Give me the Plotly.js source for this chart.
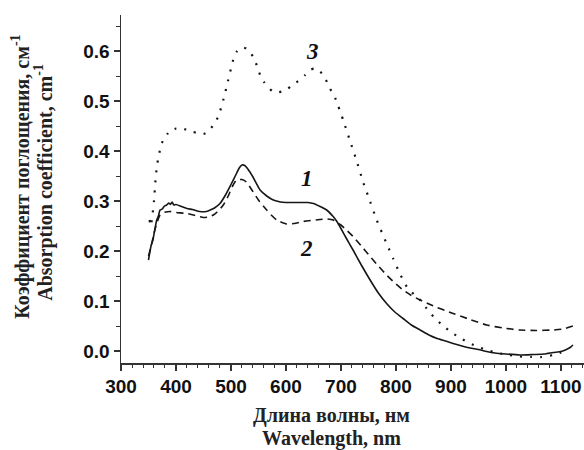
<!DOCTYPE html>
<html>
<head>
<meta charset="utf-8">
<script src="https://cdn.plot.ly/plotly-3.0.1.min.js"></script>
<style>html,body{margin:0;padding:0;background:#fff;}#chart{width:584px;height:450px;}</style>
</head>
<body>
<div id="chart"></div>
<script>
// Curve 1 (solid)
const x1 = [350,352,355,358,361,365,368,371,375,379,383,387,390,393,396,400,410,420,430,443,455,462,470,480,490,500,510,515,520,525,530,540,553,565,577,590,600,613,625,640,650,662,674,685,692,700,710,722,737,753,768,783,798,813,828,844,860,875,890,904,920,935,950,965,980,1000,1025,1050,1070,1086,1100,1110,1118,1122];
const y1 = [0.182,0.195,0.212,0.222,0.240,0.262,0.270,0.282,0.284,0.290,0.292,0.296,0.293,0.298,0.292,0.293,0.289,0.285,0.283,0.279,0.279,0.282,0.286,0.295,0.312,0.333,0.355,0.366,0.372,0.371,0.365,0.348,0.322,0.310,0.302,0.298,0.297,0.297,0.297,0.297,0.295,0.289,0.282,0.270,0.260,0.245,0.225,0.202,0.172,0.142,0.116,0.095,0.078,0.065,0.052,0.042,0.032,0.025,0.020,0.015,0.010,0.006,0.003,-0.001,-0.004,-0.006,-0.008,-0.007,-0.006,-0.003,-0.001,0.003,0.008,0.012];
// Curve 2 (dashed)
const x2 = [350,355,360,365,371,378,389,400,420,435,450,460,468,475,486,495,503,510,520,528,538,550,565,575,583,601,615,631,645,662,675,686,692,700,710,722,737,753,768,783,798,813,828,844,860,875,890,904,935,965,995,1025,1055,1086,1105,1122];
const y2 = [0.190,0.210,0.235,0.255,0.272,0.277,0.279,0.277,0.275,0.271,0.267,0.268,0.272,0.278,0.292,0.310,0.330,0.342,0.343,0.338,0.322,0.302,0.282,0.270,0.262,0.254,0.255,0.259,0.261,0.263,0.264,0.262,0.257,0.252,0.242,0.229,0.210,0.189,0.170,0.152,0.136,0.122,0.111,0.102,0.094,0.087,0.081,0.075,0.063,0.052,0.046,0.042,0.041,0.042,0.044,0.050];
// Curve 3 (dotted)
const x3 = [352,354,357,360,363,366,369,372,376,380,385,390,395,400,407,415,423,431,440,450,458,468,477,486,495,504,510,516,522,528,534,540,547,553,560,568,575,583,592,601,612,625,635,644,652,662,670,680,688,695,704,716,728,740,753,765,783,795,807,820,833,844,856,868,886,904,920,935,950,965,985,1005,1025,1045,1065,1086,1100,1110];
const y3 = [0.262,0.250,0.270,0.300,0.345,0.375,0.390,0.410,0.420,0.428,0.435,0.442,0.443,0.445,0.446,0.444,0.440,0.438,0.436,0.434,0.438,0.452,0.469,0.502,0.542,0.582,0.598,0.605,0.607,0.605,0.598,0.589,0.571,0.552,0.538,0.527,0.520,0.517,0.519,0.523,0.532,0.542,0.552,0.562,0.565,0.559,0.548,0.525,0.510,0.490,0.462,0.422,0.382,0.339,0.299,0.262,0.215,0.185,0.155,0.128,0.113,0.102,0.085,0.069,0.050,0.035,0.024,0.015,0.008,0.002,-0.004,-0.008,-0.011,-0.012,-0.012,-0.008,-0.003,0.002];

const curveLabels = ['1','2','3'];
const labelX = [638, 638, 648];
const labelY = [0.345, 0.205, 0.599];
const xTickVals = [300,400,500,600,700,800,900,1000,1100];
const xTickText = ['300','400','500','600','700','800','900','1000','1100'];
const yTickVals = [0,0.1,0.2,0.3,0.4,0.5,0.6];
const yTickText = ['0.0','0.1','0.2','0.3','0.4','0.5','0.6'];

const lineColor = '#161616';
const traces = [
  {x:x1, y:y1, mode:'lines', line:{color:lineColor, width:1.6, shape:'spline', smoothing:0.5}},
  {x:x2, y:y2, mode:'lines', line:{color:lineColor, width:1.6, dash:'7px,5px', shape:'spline', smoothing:0.5}},
  {x:x3, y:y3, mode:'lines', line:{color:lineColor, width:2.2, dash:'2px,8px', shape:'spline', smoothing:0.5}}
];

const serif = {family:'Liberation Serif', size:20, color:'#222'};
const annotations = curveLabels.map((t,i)=>({
  x:labelX[i], y:labelY[i], xref:'x', yref:'y', text:'<b><i>'+t+'</i></b>', showarrow:false,
  font:{family:'Liberation Serif', size:23, color:'#111'}
}));
annotations.push(
  {xref:'paper', yref:'paper', x:0.4536, y:-0.152, text:'<b>Длина волны, нм</b>', showarrow:false, xanchor:'center', yanchor:'middle', font:serif},
  {xref:'paper', yref:'paper', x:0.4536, y:-0.218, text:'<b>Wavelength, nm</b>', showarrow:false, xanchor:'center', yanchor:'middle', font:serif},
  {xref:'paper', yref:'paper', x:-0.2160, y:0.535, text:'<b>Коэффициент поглощения, см<sup>-1</sup></b>', showarrow:false, textangle:-90, xanchor:'center', yanchor:'middle', font:serif},
  {xref:'paper', yref:'paper', x:-0.1663, y:0.518, text:'<b>Absorption coefficient, cm<sup>-1</sup></b>', showarrow:false, textangle:-90, xanchor:'center', yanchor:'middle', font:serif}
);

const tickFont = {family:'Liberation Sans', size:19, color:'#111'};
const layout = {
  width:584, height:450,
  margin:{l:121, r:0, t:15, b:87, pad:0},
  paper_bgcolor:'#fff', plot_bgcolor:'#fff',
  showlegend:false,
  xaxis:{range:[300,1142], showgrid:false, zeroline:false, showline:true, linecolor:'#333', linewidth:1.5,
    tickmode:'array', tickvals:xTickVals, ticktext:xTickText.map(s=>'<b>'+s+'</b>'), ticks:'outside', ticklen:6, tickwidth:1.3, tickcolor:'#333',
    tickfont:tickFont, tickangle:0,
    minor:{dtick:20, tick0:300, ticks:'outside', ticklen:3.5, tickwidth:1, tickcolor:'#333', showgrid:false}},
  yaxis:{range:[-0.024,0.672], showgrid:false, zeroline:false, showline:true, linecolor:'#333', linewidth:1.5,
    tickmode:'array', tickvals:yTickVals, ticktext:yTickText.map(s=>'<b>'+s+'</b>'), ticks:'outside', ticklen:6, tickwidth:1.3, tickcolor:'#333',
    tickfont:tickFont,
    minor:{dtick:0.05, tick0:0, ticks:'outside', ticklen:3.5, tickwidth:1, tickcolor:'#333', showgrid:false}},
  annotations:annotations
};
Plotly.newPlot('chart', traces, layout, {staticPlot:true, displayModeBar:false});
</script>
</body>
</html>
